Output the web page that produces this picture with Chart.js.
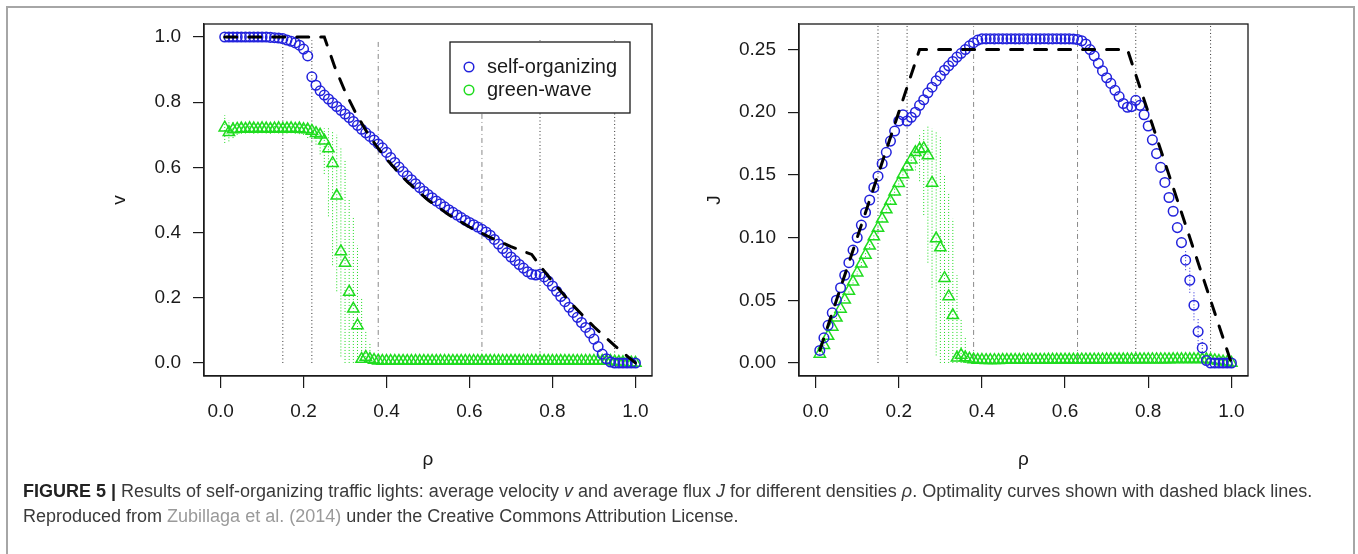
<!DOCTYPE html>
<html>
<head>
<meta charset="utf-8">
<script src="https://cdn.jsdelivr.net/npm/chart.js@4.4.1/dist/chart.umd.min.js"></script>
<style>
  body { margin: 0; background: #fff; width: 1358px; height: 554px; overflow: hidden; position: relative;
         font-family: "Liberation Sans", Arial, Helvetica, sans-serif; }
  #frame { position: absolute; left: 6px; top: 6px; width: 1349px; height: 620px; border: 2px solid #a6a6a6; box-sizing: border-box; }
  #wrapV { position: absolute; left: 0; top: 0; }
  #wrapJ { position: absolute; left: 680px; top: 0; }
  #caption { position: absolute; left: 23px; top: 479px; font-size: 18px; line-height: 25px; color: #3a3a3a; white-space: nowrap; }
  #caption b { color: #222; }
  #caption .ref { color: #9a9a9a; }
</style>
</head>
<body>
<div id="frame"></div>
<div id="wrapV"><canvas id="chartV" width="680" height="480"></canvas></div>
<div id="wrapJ"><canvas id="chartJ" width="678" height="480"></canvas></div>
<div id="caption"><b>FIGURE 5 |</b> Results of self-organizing traffic lights: average velocity <i>v</i> and average flux <i>J</i> for different densities <i>ρ</i>. Optimality curves shown with dashed black lines.<br>Reproduced from <span class="ref">Zubillaga et al. (2014)</span> under the Creative Commons Attribution License.</div>

<script>
// densities
const rho = [
  0.01,0.02,0.03,0.04,0.05,0.06,0.07,0.08,0.09,0.10,
  0.11,0.12,0.13,0.14,0.15,0.16,0.17,0.18,0.19,0.20,
  0.21,0.22,0.23,0.24,0.25,0.26,0.27,0.28,0.29,0.30,
  0.31,0.32,0.33,0.34,0.35,0.36,0.37,0.38,0.39,0.40,
  0.41,0.42,0.43,0.44,0.45,0.46,0.47,0.48,0.49,0.50,
  0.51,0.52,0.53,0.54,0.55,0.56,0.57,0.58,0.59,0.60,
  0.61,0.62,0.63,0.64,0.65,0.66,0.67,0.68,0.69,0.70,
  0.71,0.72,0.73,0.74,0.75,0.76,0.77,0.78,0.79,0.80,
  0.81,0.82,0.83,0.84,0.85,0.86,0.87,0.88,0.89,0.90,
  0.91,0.92,0.93,0.94,0.95,0.96,0.97,0.98,0.99,1.00
];

// average velocity, self-organizing
const selfOrgV = [
  1.000,1.000,1.000,1.000,1.000,1.000,1.000,1.000,1.000,1.000,
  1.000,0.999,0.998,0.997,0.995,0.991,0.987,0.982,0.975,0.963,
  0.942,0.878,0.852,0.835,0.822,0.810,0.798,0.787,0.775,0.764,
  0.753,0.741,0.729,0.717,0.706,0.695,0.684,0.672,0.660,0.646,
  0.630,0.615,0.601,0.587,0.574,0.562,0.550,0.538,0.527,0.517,
  0.507,0.497,0.488,0.479,0.470,0.462,0.454,0.446,0.438,0.431,
  0.424,0.417,0.410,0.402,0.392,0.379,0.365,0.351,0.338,0.325,
  0.314,0.302,0.291,0.280,0.272,0.270,0.272,0.264,0.251,0.236,
  0.220,0.204,0.188,0.171,0.155,0.140,0.124,0.109,0.092,0.073,
  0.050,0.027,0.013,0.003,0.000,0.000,0.000,0.000,0.000,0.000
];

// average velocity, green-wave
const greenWaveV = [
  0.722,0.708,0.716,0.718,0.719,0.718,0.720,0.719,0.718,0.720,
  0.719,0.718,0.719,0.720,0.718,0.719,0.720,0.718,0.719,0.717,
  0.716,0.712,0.705,0.700,0.682,0.658,0.613,0.513,0.342,0.307,
  0.218,0.166,0.115,0.012,0.018,0.012,0.009,0.007,0.006,0.006,
  0.006,0.006,0.006,0.006,0.006,0.006,0.006,0.006,0.006,0.006,
  0.006,0.006,0.006,0.006,0.006,0.006,0.006,0.006,0.006,0.006,
  0.006,0.006,0.006,0.006,0.006,0.006,0.006,0.006,0.006,0.006,
  0.006,0.006,0.006,0.006,0.006,0.006,0.006,0.006,0.006,0.006,
  0.006,0.006,0.006,0.006,0.006,0.006,0.006,0.006,0.006,0.006,
  0.006,0.006,0.006,0.006,0.004,0.003,0.002,0.001,0.001,0.000
];

// average flux, self-organizing
const selfOrgJ = [
  0.010,0.020,0.030,0.040,0.050,0.060,0.070,0.080,0.090,0.100,
  0.110,0.120,0.130,0.140,0.149,0.159,0.168,0.177,0.185,0.193,
  0.198,0.193,0.196,0.200,0.2055,0.210,0.2155,0.220,0.225,0.229,
  0.2335,0.237,0.2405,0.244,0.247,0.250,0.253,0.2555,0.2575,0.2585,
  0.2585,0.2586,0.2585,0.2586,0.2585,0.2585,0.2586,0.2585,0.2585,0.2586,
  0.2585,0.2586,0.2585,0.2585,0.2586,0.2585,0.2585,0.2586,0.2585,0.2585,
  0.2585,0.2584,0.258,0.257,0.2545,0.250,0.245,0.239,0.233,0.2275,
  0.223,0.2175,0.2125,0.207,0.204,0.2045,0.2095,0.2055,0.198,0.189,
  0.178,0.167,0.156,0.144,0.132,0.121,0.108,0.096,0.082,0.066,
  0.046,0.025,0.012,0.002,0.000,0.000,0.000,0.000,0.000,0.000
];

// average flux, green-wave
const greenWaveJ = [
  0.0072,0.0142,0.0215,0.0287,0.0360,0.0431,0.0504,0.0575,0.0647,0.0720,
  0.0791,0.0862,0.0935,0.1008,0.1077,0.1150,0.1224,0.1292,0.1366,0.1434,
  0.1504,0.1566,0.1622,0.1680,0.1705,0.1711,0.1655,0.1436,0.0992,0.0921,
  0.0676,0.0531,0.0380,0.0041,0.0063,0.0043,0.0033,0.0027,0.0023,0.0023,
  0.0022,0.0022,0.0022,0.0022,0.0023,0.0023,0.0023,0.0023,0.0023,0.0024,
  0.0024,0.0024,0.0024,0.0024,0.0024,0.0025,0.0025,0.0025,0.0025,0.0025,
  0.0025,0.0025,0.0026,0.0026,0.0026,0.0026,0.0026,0.0026,0.0026,0.0027,
  0.0027,0.0027,0.0027,0.0027,0.0027,0.0027,0.0028,0.0028,0.0028,0.0028,
  0.0028,0.0028,0.0028,0.0028,0.0028,0.0029,0.0029,0.0029,0.0029,0.0029,
  0.0029,0.0029,0.0029,0.0029,0.0025,0.0020,0.0015,0.0010,0.0008,0.0000
];

// spread of the green-wave runs (dotted bars), densities 0.01 - 0.36
const greenErrRho = rho.slice(0, 36);
const greenVLow = [
  0.675,0.680,0.690,0.700,0.703,0.704,0.705,0.703,0.704,0.705,
  0.704,0.703,0.705,0.704,0.703,0.704,0.705,0.703,0.702,0.700,
  0.690,0.680,0.670,0.640,0.580,0.450,0.300,0.220,0.020,0.000,
  0.000,0.000,0.000,0.000,0.000,0.000
];
const greenVHigh = [
  0.760,0.745,0.740,0.735,0.733,0.734,0.733,0.734,0.735,0.733,
  0.734,0.735,0.733,0.734,0.735,0.733,0.734,0.733,0.732,0.732,
  0.730,0.728,0.725,0.720,0.720,0.720,0.710,0.700,0.660,0.620,
  0.500,0.450,0.360,0.200,0.100,0.060
];
const greenJLow = [
  0.0068,0.0136,0.0207,0.0280,0.0352,0.0422,0.0494,0.0562,0.0634,0.0705,
  0.0774,0.0844,0.0917,0.0986,0.1055,0.1126,0.1199,0.1265,0.1334,0.1400,
  0.1449,0.1496,0.1541,0.1536,0.1450,0.1180,0.0800,0.0600,0.0060,0.0000,
  0.0000,0.0000,0.0000,0.0000,0.0000,0.0000
];
const greenJHigh = [
  0.0076,0.0149,0.0222,0.0294,0.0367,0.0440,0.0513,0.0587,0.0662,0.0733,
  0.0807,0.0882,0.0953,0.1028,0.1103,0.1173,0.1248,0.1319,0.1391,0.1464,
  0.1533,0.1602,0.1668,0.1730,0.1820,0.1870,0.1900,0.1870,0.1850,0.1800,
  0.1500,0.1350,0.1150,0.0700,0.0350,0.0200
];
// spread of the self-organizing flux near jamming
const selfErrRho = [0.89, 0.90, 0.91, 0.92, 0.93];
const selfJLow = [0.074, 0.056, 0.034, 0.015, 0.004];
const selfJHigh = [0.090, 0.076, 0.058, 0.035, 0.020];

// optimality curves
const optRhoV = [0.01, 0.25, 0.275, 0.30, 0.325, 0.35, 0.375, 0.40, 0.45, 0.50, 0.55, 0.60, 0.65, 0.70, 0.75, 0.775, 0.80, 0.85, 0.90, 0.95, 1.00];
const optV    = [1.00, 1.00, 0.909, 0.833, 0.769, 0.714, 0.667, 0.625, 0.556, 0.500, 0.455, 0.417, 0.385, 0.357, 0.333, 0.290, 0.250, 0.176, 0.111, 0.053, 0.000];
const optRhoJ = [0.01, 0.25, 0.75, 1.00];
const optJ    = [0.01, 0.25, 0.25, 0.00];

// vertical marks
const dottedRho = [0.15, 0.22, 0.77, 0.95];
const dashDotRho = [0.38, 0.63];
const markTopV = 0.99;
const markTopJ = 0.272;

// axes
const rhoTicks = [0, 0.2, 0.4, 0.6, 0.8, 1.0];
const vTicks = [0, 0.2, 0.4, 0.6, 0.8, 1.0];
const jTicks = [0, 0.05, 0.10, 0.15, 0.20, 0.25];
const legendLabels = ['self-organizing', 'green-wave'];

const BLUE = '#2222dc';
const GREEN = '#1fdc1f';
const INK = '#1a1a1a';
const FONT = '"Liberation Sans", Arial, Helvetica, sans-serif';

Chart.defaults.font.family = FONT;
Chart.defaults.font.size = 19;
Chart.defaults.color = INK;

const pts = (xs, ys) => xs.map((x, i) => ({ x: x, y: ys[i] }));

function segments(xs, lo, hi) {
  const out = [];
  xs.forEach((x, i) => {
    out.push({ x: x, y: typeof lo === 'number' ? lo : lo[i] });
    out.push({ x: x, y: typeof hi === 'number' ? hi : hi[i] });
    out.push({ x: x, y: null });
  });
  return out;
}

// closes the plot box on top and right like R's box()
const framePlugin = {
  id: 'frame',
  afterDraw(chart) {
    const a = chart.chartArea, c = chart.ctx;
    c.save();
    c.strokeStyle = INK;
    c.lineWidth = 1.3;
    c.strokeRect(a.left, a.top, a.right - a.left, a.bottom - a.top);
    c.restore();
  }
};

const legendPlugin = {
  id: 'rLegend',
  afterDatasetsDraw(chart) {
    const a = chart.chartArea, c = chart.ctx;
    const w = 180, h = 71;
    const x0 = a.right - 22 - w, y0 = a.top + 18;
    const colors = [BLUE, GREEN];
    c.save();
    c.fillStyle = '#fff';
    c.fillRect(x0, y0, w, h);
    c.strokeStyle = INK;
    c.lineWidth = 1.3;
    c.strokeRect(x0, y0, w, h);
    c.font = '20px ' + FONT;
    c.textBaseline = 'middle';
    legendLabels.forEach((t, i) => {
      const y = y0 + 25 + i * 23;
      c.beginPath();
      c.arc(x0 + 19, y, 4.8, 0, Math.PI * 2);
      c.strokeStyle = colors[i];
      c.lineWidth = 1.5;
      c.stroke();
      c.fillStyle = INK;
      c.fillText(t, x0 + 37, y);
    });
    c.restore();
  }
};

function axisX(height) {
  return {
    type: 'linear', min: -0.04, max: 1.04,
    afterBuildTicks: s => { s.ticks = rhoTicks.map(v => ({ value: v })); },
    afterFit: s => { s.height = height; },
    grid: { drawOnChartArea: false, tickLength: 12, color: INK, lineWidth: 1.2 },
    border: { display: true, color: INK, width: 1.3 },
    ticks: { padding: 12, maxRotation: 0, autoSkip: false, callback: v => v.toFixed(1) },
    title: { display: true, text: 'ρ', padding: { top: 0, bottom: 9 } }
  };
}

function axisY(min, max, ticks, digits, width, label, titlePad) {
  return {
    type: 'linear', min: min, max: max,
    afterBuildTicks: s => { s.ticks = ticks.map(v => ({ value: v })); },
    afterFit: s => { s.width = width; },
    grid: { drawOnChartArea: false, tickLength: 11, color: INK, lineWidth: 1.2 },
    border: { display: true, color: INK, width: 1.3 },
    ticks: { padding: 12, autoSkip: false, callback: v => v.toFixed(digits) },
    title: { display: true, text: label, padding: { top: titlePad, bottom: 0 } }
  };
}

function panelDatasets(sx, sy, gx, gy, optX, optY, markTop, greenLo, greenHi, selfErr) {
  const ds = [
    { data: pts(optX, optY), showLine: true, borderColor: '#000', borderWidth: 3,
      borderDash: [12, 12], borderCapStyle: 'round', pointRadius: 0, order: 1 },
    { data: pts(sx, sy), pointStyle: 'circle', pointRadius: 4.8, borderColor: BLUE,
      backgroundColor: 'rgba(0,0,0,0)', pointBorderWidth: 1.5, order: 2 },
    { data: pts(gx, gy), pointStyle: 'triangle', pointRadius: 6.5, borderColor: GREEN,
      backgroundColor: 'rgba(0,0,0,0)', pointBorderWidth: 1.5, order: 3 },
    { data: segments(greenErrRho, greenLo, greenHi), showLine: true, borderColor: GREEN,
      borderWidth: 1, borderDash: [1, 2], pointRadius: 0, order: 4 },
    { data: segments(dottedRho, 0, markTop), showLine: true, borderColor: '#333',
      borderWidth: 1, borderDash: [1, 2.5], pointRadius: 0, order: 6 },
    { data: segments(dashDotRho, 0, markTop), showLine: true, borderColor: '#8a8a8a',
      borderWidth: 1, borderDash: [1, 3, 5, 3], pointRadius: 0, order: 6 }
  ];
  if (selfErr) {
    ds.push({ data: segments(selfErr[0], selfErr[1], selfErr[2]), showLine: true, borderColor: BLUE,
      borderWidth: 1, borderDash: [1, 2], pointRadius: 0, order: 5 });
  }
  return ds;
}

const common = {
  responsive: false,
  animation: false,
  events: [],
  plugins: { legend: { display: false }, tooltip: { enabled: false } }
};

new Chart(document.getElementById('chartV'), {
  type: 'scatter',
  data: { datasets: panelDatasets(rho, selfOrgV, rho, greenWaveV, optRhoV, optV, markTopV, greenVLow, greenVHigh, null) },
  options: Object.assign({}, common, {
    layout: { autoPadding: false, padding: { left: 0, top: 24, right: 28, bottom: 0 } },
    scales: {
      x: axisX(104),
      y: axisY(-0.04, 1.04, vTicks, 1, 204, 'v', 108)
    }
  }),
  plugins: [framePlugin, legendPlugin]
});

new Chart(document.getElementById('chartJ'), {
  type: 'scatter',
  data: { datasets: panelDatasets(rho, selfOrgJ, rho, greenWaveJ, optRhoJ, optJ, markTopJ, greenJLow, greenJHigh, [selfErrRho, selfJLow, selfJHigh]) },
  options: Object.assign({}, common, {
    layout: { autoPadding: false, padding: { left: 0, top: 24, right: 110, bottom: 0 } },
    scales: {
      x: axisX(104),
      y: axisY(-0.0104, 0.2704, jTicks, 2, 119, 'J', 23)
    }
  }),
  plugins: [framePlugin]
});
</script>
</body>
</html>
